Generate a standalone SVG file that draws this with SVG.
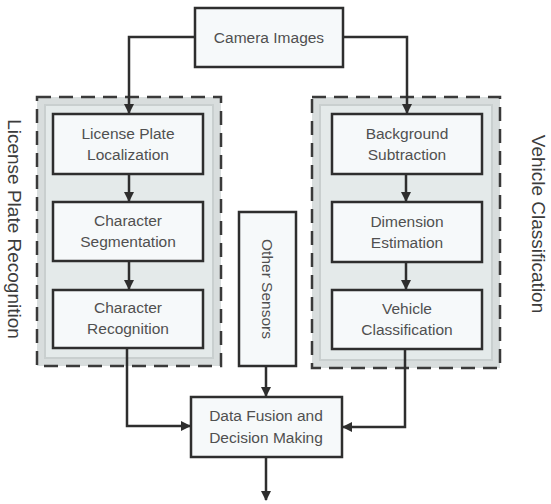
<svg xmlns="http://www.w3.org/2000/svg" width="551" height="504" viewBox="0 0 551 504">
<defs>
<style>
.grp{fill:#d8dddd;stroke:#3a3a3a;stroke-width:2.5;stroke-dasharray:14 8}
.grpin{fill:#e4eaea;stroke:#c9cfcf;stroke-width:2}
.box{fill:#f6f9fa;stroke:#2e2e2e;stroke-width:2.5}
.t{font-family:"Liberation Sans",Arial,sans-serif;font-size:15.5px;fill:#505050;text-anchor:middle}
.side{font-family:"Liberation Sans",Arial,sans-serif;font-size:19px;fill:#3c3c3c;text-anchor:middle}
.c{fill:none;stroke:#2e2e2e;stroke-width:2.5}
</style>
<marker id="ah" viewBox="0 0 10 10" refX="9" refY="5" markerWidth="4" markerHeight="4" orient="auto" markerUnits="strokeWidth">
<path d="M0,0 L10,5 L0,10 z" fill="#2e2e2e"/>
</marker>
</defs>
<rect width="551" height="504" fill="#ffffff"/>
<g id="group-lpr">
<rect class="grp" x="37" y="97" width="184" height="269"/>
<rect class="grpin" x="45" y="105" width="168" height="253"/>
<text class="side" transform="translate(14,229) rotate(90)" dy="6">License Plate Recognition</text>
</g>
<g id="group-vc">
<rect class="grp" x="312" y="97" width="188" height="271"/>
<rect class="grpin" x="320" y="105" width="172" height="255"/>
<text class="side" transform="translate(538,224) rotate(90)" dy="6">Vehicle Classification</text>
</g>
<g id="camera">
<rect class="box" x="195" y="8" width="148" height="59"/>
<text class="t" x="269" y="43">Camera Images</text>
</g>
<g id="lpl">
<rect class="box" x="53" y="114" width="150" height="60"/>
<text class="t" x="128" y="139">License Plate</text>
<text class="t" x="128" y="160">Localization</text>
</g>
<g id="cs">
<rect class="box" x="53" y="202" width="150" height="59"/>
<text class="t" x="128" y="226">Character</text>
<text class="t" x="128" y="247">Segmentation</text>
</g>
<g id="cr">
<rect class="box" x="53" y="290" width="150" height="58"/>
<text class="t" x="128" y="313">Character</text>
<text class="t" x="128" y="334">Recognition</text>
</g>
<g id="bs">
<rect class="box" x="332" y="114" width="150" height="60"/>
<text class="t" x="407" y="139">Background</text>
<text class="t" x="407" y="160">Subtraction</text>
</g>
<g id="de">
<rect class="box" x="332" y="202" width="150" height="60"/>
<text class="t" x="407" y="227">Dimension</text>
<text class="t" x="407" y="248">Estimation</text>
</g>
<g id="vcl">
<rect class="box" x="332" y="290" width="150" height="59"/>
<text class="t" x="407" y="314">Vehicle</text>
<text class="t" x="407" y="335">Classification</text>
</g>
<g id="other">
<rect class="box" x="239" y="212" width="57" height="154"/>
<text class="t" transform="translate(267,289) rotate(90)" dy="5">Other Sensors</text>
</g>
<g id="fusion">
<rect class="box" x="191" y="397" width="151" height="60"/>
<text class="t" x="266" y="421">Data Fusion and</text>
<text class="t" x="266" y="443">Decision Making</text>
</g>
<g id="connectors">
<path class="c" d="M195,37 H129 V113" marker-end="url(#ah)"/>
<path class="c" d="M343,37 H407 V113" marker-end="url(#ah)"/>
<path class="c" d="M129,174 V201" marker-end="url(#ah)"/>
<path class="c" d="M129,261 V289" marker-end="url(#ah)"/>
<path class="c" d="M406,174 V201" marker-end="url(#ah)"/>
<path class="c" d="M406,262 V289" marker-end="url(#ah)"/>
<path class="c" d="M266,366 V396" marker-end="url(#ah)"/>
<path class="c" d="M127,348 V426 H190" marker-end="url(#ah)"/>
<path class="c" d="M405,349 V427 H343" marker-end="url(#ah)"/>
<path class="c" d="M266,457 V500" marker-end="url(#ah)"/>
</g>
</svg>
